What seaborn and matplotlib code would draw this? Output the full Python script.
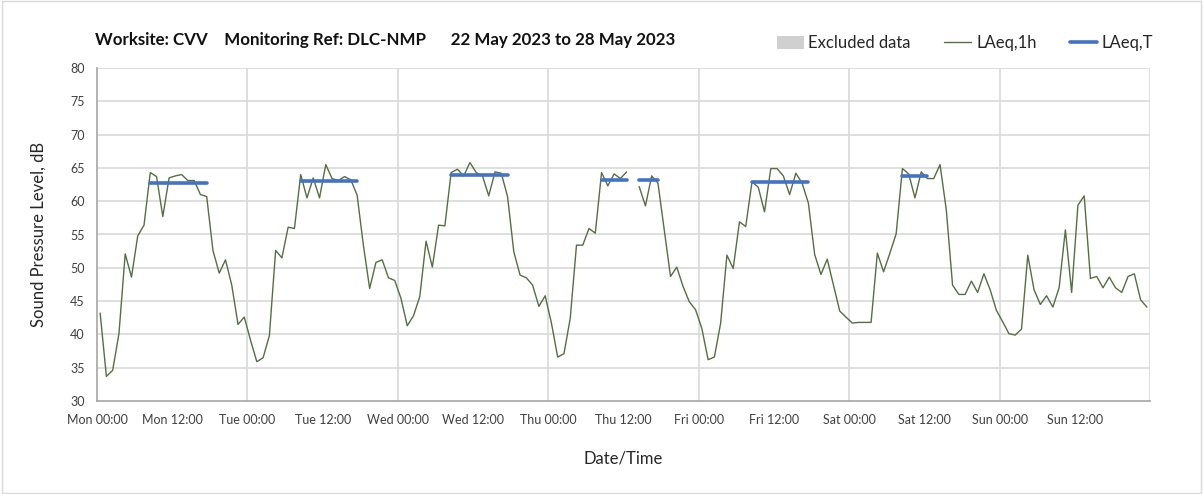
import numpy as np
import pandas as pd
import matplotlib
matplotlib.use("Agg")
import matplotlib.pyplot as plt
from matplotlib.patches import Patch, Rectangle
from matplotlib.lines import Line2D
import seaborn as sns

# ---------------- data ----------------
day_names = ["Mon", "Tue", "Wed", "Thu", "Fri", "Sat", "Sun"]
tick_labels = [f"{d} {t}" for d in day_names for t in ("00:00", "12:00")] + [""]

# hourly LAeq,1h values, hour 0 = Mon 00:00 (NaN = excluded hour)
laeq_1h = [
    43.2, 33.7, 34.6, 40.1, 52.1, 48.6, 54.8, 56.4, 64.3, 63.7, 57.7, 63.5,
    63.8, 64.0, 63.1, 63.1, 61.0, 60.7, 52.6, 49.2, 51.2, 47.4, 41.5, 42.6,
    39.1, 35.9, 36.5, 39.8, 52.6, 51.5, 56.1, 55.9, 64.0, 60.5, 63.5, 60.5,
    65.5, 63.4, 63.1, 63.7, 63.2, 60.9, 53.4, 46.9, 50.8, 51.2, 48.5, 48.1,
    45.4, 41.3, 42.8, 45.7, 54.0, 50.1, 56.4, 56.3, 64.3, 64.8, 63.8, 65.8,
    64.3, 63.8, 60.8, 64.4, 64.2, 60.7, 52.4, 48.9, 48.5, 47.4, 44.2, 45.8,
    41.7, 36.6, 37.1, 42.4, 53.4, 53.4, 55.9, 55.2, 64.3, 62.3, 64.1, 63.4,
    64.4, np.nan, 62.2, 59.3, 63.8, 62.7, 55.7, 48.7, 50.1, 47.2, 44.9, 43.7,
    40.9, 36.2, 36.6, 41.7, 51.9, 49.9, 56.9, 56.2, 62.9, 62.1, 58.4, 64.9,
    64.9, 63.8, 61.0, 64.2, 62.7, 59.7, 52.0, 49.0, 51.3, 47.4, 43.5, 42.6,
    41.7, 41.8, 41.8, 41.8, 52.2, 49.4, 52.2, 55.1, 64.9, 64.1, 60.5, 64.4,
    63.4, 63.4, 65.5, 58.7, 47.4, 46.0, 46.0, 48.0, 46.3, 49.1, 46.7, 43.6,
    41.9, 40.1, 39.9, 40.8, 51.9, 46.7, 44.5, 45.8, 44.1, 47.0, 55.7, 46.3,
    59.4, 60.8, 48.4, 48.7, 47.0, 48.6, 47.0, 46.3, 48.7, 49.1, 45.2, 44.1,
]

# LAeq,T periods (first hour, last hour, level)
period_start = [8, 32, 56, 80, 104, 128]
period_end = [17, 41, 65, 89, 113, 132]
laeq_t_values = [62.8, 63.1, 63.9, 63.15, 62.85, 63.75]

# ---------------- build frames ----------------
hours = np.arange(len(laeq_1h))
df = pd.DataFrame({"hour": hours + 0.5, "laeq": laeq_1h})
laeq_t = np.full(len(hours), np.nan)
for s, e, v in zip(period_start, period_end, laeq_t_values):
    laeq_t[s:e + 1] = v
laeq_t[np.isnan(df["laeq"].values)] = np.nan
df["laeq_t"] = laeq_t


def segments(frame, col):
    valid = frame[col].notna().values
    seg_id = np.cumsum(np.r_[0, np.diff(valid.astype(int)) != 0])
    out = []
    for sid in np.unique(seg_id[valid]):
        out.append(frame[(seg_id == sid) & valid])
    return out


# ---------------- plot ----------------
sns.set_theme(style="white")
plt.rcParams["font.family"] = ["Lato", "DejaVu Sans"]

green = "#546f42"
blue = "#4472C4"
grid_c = "#d9d9d9"
axis_c = "#a6a6a6"

fig = plt.figure(figsize=(12.03, 4.94), dpi=100)
ax = fig.add_axes([97 / 1203, 1 - 401 / 494, 1053 / 1203, 333 / 494])

for seg in segments(df, "laeq"):
    sns.lineplot(data=seg, x="hour", y="laeq", ax=ax, color=green,
                 linewidth=1.0, estimator=None, legend=False)
for seg in segments(df, "laeq_t"):
    sns.lineplot(data=seg, x="hour", y="laeq_t", ax=ax, color=blue,
                 linewidth=2.6, estimator=None, legend=False)

ax.set_xlim(0, 168)
ax.set_ylim(30, 80)
ax.set_yticks(np.arange(30, 81, 5))
ax.set_xticks(np.arange(0, 169, 12))
ax.set_xticklabels(tick_labels, fontsize=9, color="#404040")
ax.tick_params(axis="y", labelsize=9, labelcolor="#404040")
ax.tick_params(axis="both", direction="out", length=5, width=1, color=axis_c, pad=4)

# gridlines: horizontal every 5 dB, vertical at midnight
for yv in np.arange(35, 81, 5):
    ax.axhline(yv, color=grid_c, lw=1.2, zorder=0)
for xv in np.arange(24, 169, 24):
    ax.axvline(xv, color=grid_c, lw=1.2, zorder=0)

for side in ("top", "right"):
    ax.spines[side].set_visible(False)
for side in ("left", "bottom"):
    ax.spines[side].set_color(axis_c)
    ax.spines[side].set_linewidth(1.2)

ax.set_xlabel("Date/Time", fontsize=12, color="#262626", labelpad=18)
ax.set_ylabel("Sound Pressure Level, dB", fontsize=12, color="#262626", labelpad=17)

fig.text(95 / 1203, 1 - 40 / 494,
         "Worksite: CVV    Monitoring Ref: DLC-NMP      22 May 2023 to 28 May 2023",
         fontsize=12.2, fontweight="bold", color="#111111", va="center", ha="left")

handles = [Patch(facecolor="#d0d0d0", edgecolor="none"),
           Line2D([], [], color=green, lw=1.0),
           Line2D([], [], color=blue, lw=2.6)]
fig.legend(handles, ["Excluded data", "LAeq,1h", "LAeq,T"], loc="center right",
           bbox_to_anchor=(1168 / 1203, 1 - 43 / 494), ncol=3, frameon=False,
           fontsize=12, handlelength=1.6, handletextpad=0.3, columnspacing=2.0,
           handleheight=0.8)

fig.patches.append(Rectangle((0.002, 0.003), 0.996, 0.994, transform=fig.transFigure,
                             fill=False, edgecolor="#d9d9d9", lw=1))

fig.savefig("out.png", dpi=100)
